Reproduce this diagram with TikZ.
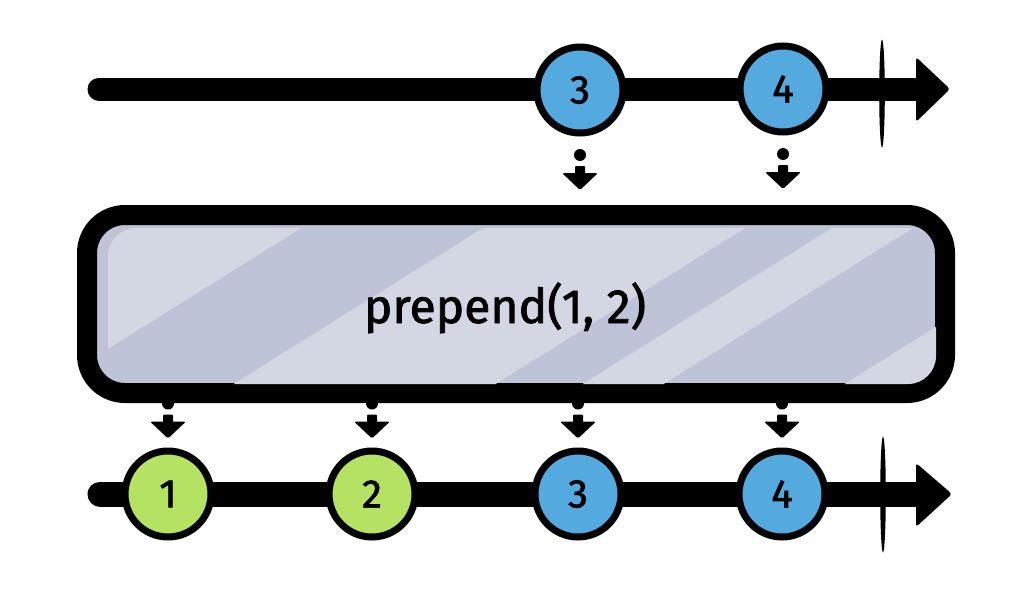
\documentclass[tikz,border=0pt]{standalone}
\usepackage{fontspec}
\setmainfont{Fira Sans}
\newfontfamily\handfont{Fira Sans}[FakeBold=1.6]
\usetikzlibrary{calc}
\definecolor{mblue}{RGB}{84,170,222}
\definecolor{mgreen}{RGB}{182,226,100}
\definecolor{boxdark}{RGB}{191,195,216}
\definecolor{boxlight}{RGB}{211,214,227}
\begin{document}
\begin{tikzpicture}[x=1pt,y=-1pt,
  marble/.style={circle,draw=black,line width=7pt,minimum size=86pt,inner sep=0pt,
    font=\handfont\fontsize{40}{40}\selectfont},
  timeline/.style={line width=23pt,line cap=round},
  opbox/.style={draw=black,fill=boxdark,line width=20pt,rounded corners=38pt,
    minimum width=858pt,minimum height=178pt,inner sep=0pt},
  band/.style={fill=boxlight},
  pics/flowmark/.style={code={
    \fill (0,0) circle (6);
    \fill[rounded corners=1pt] (-5,11) rectangle (5,21);
    \fill[rounded corners=1.5pt] (-18,18) -- (18,18) -- (0,35) -- cycle;}}
]
\useasboundingbox (0,0) rectangle (1032,592);

% top timeline
\coordinate (ts) at (99,89);
\coordinate (te) at (922,89);
\coordinate (ttip) at (950,89);
\draw[timeline] (ts) -- (te);
\fill[rounded corners=3pt] ($(ttip)+(-34,-32)$) -- (ttip) -- ($(ttip)+(-34,33)$) -- cycle;
\fill (882,93.5) ellipse [x radius=2.8, y radius=54];

\node[marble,fill=mblue] (t3) at (580,90) {3};
\node[marble,fill=mblue] (t4) at (783,89) {4};

\pic at ($(t3.south)+(0,18.5)$) {flowmark};
\pic at ($(t4.south)+(0,18.5)$) {flowmark};

% bottom timeline (flow marks drawn first, box covers their top)
\coordinate (bs) at (100,494);
\coordinate (be) at (920,494);
\coordinate (btip) at (952,494);
\draw[timeline,line width=25pt] (bs) -- (be);
\fill[rounded corners=3pt] ($(btip)+(-36,-31)$) -- (btip) -- ($(btip)+(-36,33)$) -- cycle;
\fill (883,494.5) ellipse [x radius=2.8, y radius=58];

\node[marble,fill=mgreen] (b1) at (168,494) {1};
\node[marble,fill=mgreen] (b2) at (372,494) {2};
\node[marble,fill=mblue] (b3) at (578,494) {3};
\node[marble,fill=mblue] (b4) at (782,494) {4};

\pic at ($(b1.north)+(0,-44)$) {flowmark};
\pic at ($(b2.north)+(0,-44)$) {flowmark};
\pic at ($(b3.north)+(0,-44)$) {flowmark};
\pic at ($(b4.north)+(0,-44)$) {flowmark};

% operator box
\node[opbox] (box) at (516,304) {};
\begin{scope}
  \clip[rounded corners=28pt] (108,228) rectangle (936,384);
  \fill[band] (-1000,200) -- (346,200) -- (26,400) -- (-1000,400) -- cycle;
  \fill[band] (528,200) -- (790,200) -- (470,400) -- (208,400) -- cycle;
  \fill[band] (877,200) -- (958,200) -- (638,400) -- (557,400) -- cycle;
  \fill[band] (1139,200) -- (2000,200) -- (2000,400) -- (819,400) -- cycle;
\end{scope}
\node[anchor=base,font=\handfont\fontsize{48}{48}\selectfont] (lbl) at (505,323) {prepend(1, 2)};
\end{tikzpicture}
\end{document}
